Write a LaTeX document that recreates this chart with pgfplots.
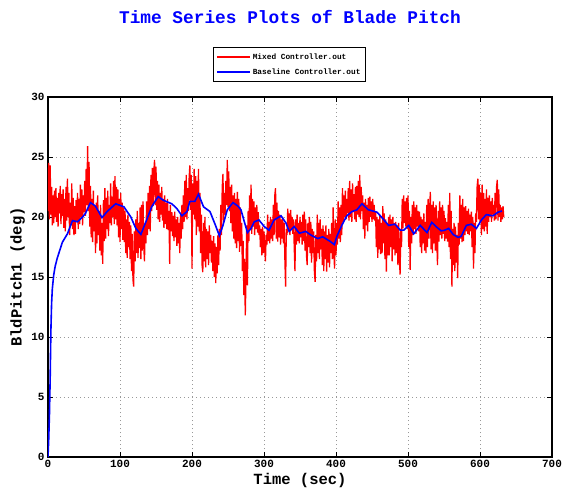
\documentclass[border=0pt]{standalone}
\usepackage{pgfplots}
\pgfplotsset{compat=1.18}
\usepackage{fontspec}
\setmainfont{Liberation Mono}
\begin{document}
\begin{tikzpicture}
\begin{axis}[
 scale only axis, width=504pt, height=360pt,
 xmin=0, xmax=700, ymin=0, ymax=30,
 xtick={0,100,...,700}, ytick={0,5,...,30},
 grid=major, grid style={gray!80, line width=0.6pt, dash pattern=on 0.8pt off 3.2pt},
 tick align=inside, major tick length=5pt,
 axis line style={line width=1.1pt},
 every tick/.style={black, line width=0.8pt},
 tick label style={font=\bfseries\fontsize{11}{12}\selectfont},
 /pgf/number format/assume math mode=true,
 xlabel={Time (sec)}, ylabel={BldPitch1 (deg)},
 every axis x label/.style={at={(axis description cs:0.5,-0.064)}, anchor=center, font=\bfseries\fontsize{15.5}{16}\selectfont},
 every axis y label/.style={at={(axis description cs:-0.06,0.5)}, anchor=center, rotate=90, font=\bfseries\fontsize{15.5}{16}\selectfont},
 legend style={at={(axis description cs:0.327,1.139)}, anchor=north west, draw=black, line width=0.8pt,
   font=\bfseries\fontsize{7.8}{9}\selectfont, cells={anchor=west}, inner xsep=3pt, inner ysep=4pt, row sep=4pt},
 legend image code/.code={\draw[#1] (0pt,0pt) -- (33pt,0pt);},
]
\addlegendimage{red, line width=1.3pt}
\addlegendentry{Mixed Controller.out}
\addlegendimage{blue, line width=1.6pt}
\addlegendentry{Baseline Controller.out}
\addplot[red, line width=1.3pt, forget plot] coordinates {
(0,20.5)(1,24.5)(2,19.8)(3,24.3)(4,20.2)(5,22.5)(6,19.3)(7,21.8)(8,19.5)(9,22.2)(10,20.0)
(11,22.4)(12,19.6)(13,21.6)(14,19.2)(15,22.0)(16,20.3)(17,22.6)(18,19.4)(19,21.9)(20,20.1)(21,22.3)(22,19.1)
(23,21.5)(24,18.8)(25,22.5)(26,19.7)(27,23.2)(28,20.0)(29,22.0)(30,18.5)(31,21.2)(32,19.3)(33,22.8)(34,19.0)(35,21.6)(36,18.5)
(37,20.9)(38,18.6)(39,21.4)(40,19.6)(41,22.0)(42,19.0)(43,21.5)
(44,19.4)(45,22.7)(46,20.0)(47,22.3)(48,19.3)(49,21.8)(50,20.4)
(51,23.0)(52,20.1)(53,24.0)(54,21.0)(55,25.9)(56,20.5)(57,24.6)
(58,19.2)(59,22.6)(60,18.3)(61,21.5)(62,17.9)(63,22.2)(64,18.8)(65,20.9)(66,17.0)
(67,21.2)(68,17.8)(69,21.8)(70,18.5)(71,20.5)(72,17.2)(73,21.0)(74,16.8)(75,19.5)(76,16.1)(77,21.4)(78,18.0)
(79,22.4)(80,18.2)(81,21.6)(82,19.0)(83,22.2)(84,18.4)(85,21.0)(86,19.5)(87,22.8)(88,19.3)(89,21.7)(90,20.0)(91,23.0)(92,19.4)
(93,23.4)(94,19.8)(95,22.5)(96,19.3)
(97,22.3)(98,18.3)(99,21.5)(100,17.9)(101,22.0)(102,19.0)(103,21.2)(104,18.1)(105,20.8)(106,17.9)
(107,20.5)(108,17.0)(109,19.8)(110,16.6)(111,20.2)(112,17.5)(113,19.6)
(114,16.5)(115,19.3)(116,15.5)(117,18.6)(118,14.8)(119,14.2)(120,18.8)
(121,16.3)(122,19.8)(123,17.0)(124,20.5)(125,16.6)(126,19.5)(127,17.4)(128,20.8)(129,16.5)(130,21.0)(131,17.2)(132,21.3)(133,17.6)
(134,16.3)(135,19.5)(136,17.8)(137,21.3)(138,18.5)(139,22.0)(140,19.0)(141,22.6)(142,18.8)
(143,23.5)(144,20.5)(145,24.1)(146,20.9)(147,23.8)(148,24.75)(149,21.0)(150,24.2)(151,20.6)(152,23.0)
(153,19.8)(154,22.7)(155,19.6)(156,22.0)(157,20.2)(158,22.5)(159,19.7)(160,21.5)
(161,19.1)(162,21.8)(163,19.4)(164,21.2)(165,19.0)(166,21.5)(167,18.9)(168,20.5)(169,16.1)(170,21.0)
(171,18.8)(172,20.4)(173,18.4)(174,20.1)(175,18.0)(176,20.45)(177,18.3)(178,19.8)(179,17.6)(180,20.0)(181,17.8)(182,19.5)(183,17.0)(184,20.2)(185,18.2)(186,21.0)(187,19.0)(188,21.8)
(189,19.6)(190,23.0)(191,20.0)(192,23.5)(193,19.8)(194,22.4)(195,20.5)(196,23.2)(197,24.3)
(198,20.6)(199,23.5)(200,15.7)(201,22.8)(202,20.2)(203,24.0)(204,19.8)(205,23.4)
(206,18.5)(207,23.0)(208,19.2)(209,24.0)(210,18.8)(211,22.0)
(212,17.0)(213,20.2)(214,16.0)(215,15.4)(216,19.5)(217,16.3)(218,20.0)(219,15.8)(220,19.0)(221,16.5)(222,18.8)(223,16.0)(224,19.3)(225,17.0)
(226,18.5)(227,16.2)(228,18.0)(229,15.5)(230,18.4)(231,15.0)(232,17.8)(233,14.5)(234,17.5)(235,15.3)(236,18.5)(237,16.0)(238,19.0)(239,17.2)
(240,21.0)(241,18.5)(242,22.5)(243,23.6)(244,19.6)(245,22.0)(246,20.2)(247,23.0)
(248,21.0)(249,24.75)(250,20.8)(251,23.8)(252,20.5)(253,22.5)
(254,19.5)(255,22.7)(256,18.8)(257,21.8)(258,18.2)(259,22.0)(260,17.8)(261,21.5)
(262,17.4)(263,22.1)(264,18.0)(265,21.5)(266,17.1)(267,20.8)(268,17.6)(269,19.5)
(270,15.5)(271,18.0)(272,13.5)(273,16.5)(274,11.8)(275,15.0)(276,19.3)(277,14.3)
(278,20.5)(279,18.0)(280,21.8)(281,19.0)(282,22.7)(283,18.6)(284,21.5)(285,19.2)
(286,21.3)(287,18.5)(288,20.8)(289,19.0)(290,21.0)(291,18.7)(292,20.4)(293,18.5)
(294,19.3)(295,17.5)(296,19.0)(297,16.8)(298,19.2)(299,17.0)(300,18.8)(301,17.3)(302,16.3)(303,18.5)
(304,17.7)(305,20.2)(306,18.0)(307,19.6)(308,17.8)(309,20.0)(310,18.2)(311,19.8)(312,18.0)
(313,21.0)(314,18.5)(315,21.8)(316,22.4)(317,18.2)(318,21.2)(319,17.95)(320,20.5)(321,18.3)
(322,20.2)(323,17.7)(324,19.8)(325,18.2)(326,20.0)(327,17.8)(328,19.5)(329,16.5)(330,14.2)(331,19.0)
(332,18.5)(333,20.7)(334,18.8)(335,20.3)(336,18.5)(337,20.6)(338,19.0)(339,20.0)(340,18.6)(341,19.8)(342,17.5)(343,15.5)
(344,19.8)(345,17.7)(346,20.2)(347,18.0)(348,19.5)(349,17.8)(350,20.0)(351,18.3)(352,19.6)(353,17.7)(354,20.2)
(355,18.0)(356,20.45)(357,17.2)(358,19.8)(359,16.8)(360,16.0)(361,19.5)(362,17.5)(363,20.0)
(364,17.0)(365,19.6)(366,16.2)(367,19.0)(368,17.0)(369,18.8)(370,15.5)(371,14.6)(372,18.5)
(373,16.3)(374,20.2)(375,17.0)(376,19.5)(377,16.5)(378,19.8)(379,17.3)(380,19.0)(381,16.0)(382,19.3)(383,15.5)(384,18.8)(385,16.5)(386,19.3)
(387,15.45)(388,18.5)(389,16.2)(390,19.0)(391,15.8)(392,18.6)(393,17.0)(394,19.5)
(395,16.5)(396,20.8)(397,17.2)(398,15.7)(399,19.8)(400,16.8)(401,19.5)
(402,17.7)(403,21.3)(404,18.2)(405,20.8)(406,17.9)(407,21.0)(408,18.5)
(409,22.4)(410,19.6)(411,21.8)(412,20.0)(413,22.2)(414,19.8)(415,21.5)(416,20.3)(417,22.4)(418,19.7)
(419,23.0)(420,20.0)(421,22.3)(422,19.6)(423,22.8)(424,20.4)(425,21.9)(426,19.8)(427,22.5)
(428,19.6)(429,22.6)(430,20.2)(431,23.0)(432,20.0)(433,23.5)(434,19.8)(435,22.5)(436,20.5)
(437,21.8)(438,19.0)(439,21.2)(440,18.2)(441,21.5)(442,19.3)(443,21.0)(444,18.8)(445,21.6)
(446,19.6)(447,21.7)(448,20.0)(449,21.3)(450,19.6)(451,21.5)(452,19.8)(453,21.0)(454,19.7)
(455,20.45)(456,17.5)(457,20.0)(458,16.6)(459,19.8)(460,17.3)(461,20.2)(462,16.9)(463,19.5)
(464,17.0)(465,20.9)(466,17.8)(467,20.3)(468,16.5)(469,19.8)(470,15.45)(471,19.5)(472,16.8)(473,20.0)
(474,16.8)(475,20.2)(476,17.5)(477,19.8)(478,16.3)(479,20.0)(480,17.3)(481,19.5)(482,16.8)
(483,19.6)(484,17.0)(485,19.3)(486,16.0)(487,19.5)(488,16.8)(489,15.2)(490,19.0)(491,17.5)(492,21.5)
(493,19.05)(494,21.8)(495,19.5)(496,21.3)(497,19.2)(498,21.6)(499,19.0)
(500,21.8)(501,17.5)(502,20.5)(503,15.6)(504,20.0)(505,17.8)(506,21.0)
(507,18.5)(508,21.3)(509,19.0)(510,20.8)(511,18.6)(512,21.0)(513,19.2)(514,20.5)(515,18.8)
(516,20.45)(517,17.5)(518,20.0)(519,17.0)(520,19.8)(521,17.8)(522,20.3)(523,17.2)(524,19.6)
(525,17.0)(526,21.0)(527,17.5)(528,21.5)(529,18.2)(530,20.5)(531,22.1)(532,17.3)(533,21.0)
(534,17.0)(535,21.3)(536,17.8)(537,20.8)(538,17.2)(539,21.0)(540,18.0)(541,16.0)(542,20.5)
(543,17.95)(544,21.3)(545,18.5)(546,20.8)(547,18.2)(548,21.0)(549,18.6)(550,20.5)
(551,18.0)(552,19.9)(553,18.2)(554,19.6)(555,17.95)
(556,21.0)(557,17.5)(558,22.0)(559,16.5)(560,20.5)(561,14.2)(562,19.0)
(563,16.0)(564,19.5)(565,15.5)(566,19.2)(567,16.2)(568,18.5)(569,14.9)
(570,19.5)(571,17.7)(572,21.8)(573,18.2)(574,21.0)(575,17.9)(576,21.5)(577,18.0)(578,20.8)
(579,18.5)(580,20.9)(581,18.8)(582,20.5)(583,18.6)(584,20.7)(585,18.5)(586,20.2)(587,18.8)
(588,20.45)(589,17.5)(590,20.0)(591,15.7)(592,19.5)(593,17.0)(594,20.3)
(595,19.6)(596,22.5)(597,23.2)(598,19.8)(599,22.7)(600,19.6)(601,22.0)
(602,18.5)(603,22.7)(604,19.0)(605,22.0)(606,18.8)(607,21.5)(608,19.2)(609,22.3)(610,18.6)(611,21.6)
(612,19.6)(613,21.8)(614,20.0)(615,21.3)(616,19.6)(617,21.6)(618,20.2)(619,21.0)(620,19.7)
(621,22.0)(622,19.8)(623,22.5)(624,23.1)(625,19.7)(626,22.3)(627,20.0)
(628,21.0)(629,19.6)(630,20.8)(631,19.8)(632,20.9)(633,20.0)
};
\addplot[blue, line width=1.6pt, forget plot] coordinates {
(0,0)(1,1.5)(2,3.5)(3,6.5)(4,10.5)(5,12.8)(6,14)(8,15.2)(10,15.9)(13,16.6)(20,17.9)(27,18.6)(34,19.7)(41,19.6)(48,20.0)(52,20.3)(59,21.2)(66,20.9)(75,19.95)(82,20.45)(94,21.1)(105.5,20.85)(115,20.0)(122,19.05)(129,18.55)(137,19.75)(144,20.85)(153,21.7)(160,21.4)(172,21.1)(179,20.7)(186,20.1)(193,20.45)(197,21.3)(204,21.3)(209,21.9)(216,20.85)(225,20.45)(232,19.4)(238,18.45)(243,19.3)(249,20.6)(257,21.2)(264,20.9)(268,20.6)(272.7,19.6)(277,18.7)(282,19.05)(286.5,19.6)(293,19.75)(300.4,19.2)(307,18.9)(314,19.75)(323.6,20.1)(330.5,19.5)(335,18.8)(342,19.2)(349,18.65)(358,18.8)(365,18.5)(374.6,18.2)(381.5,18.35)(391,18.0)(397.7,17.7)(401,18.35)(408,19.3)(415,20.1)(422,20.45)(429,20.6)(436,21.1)(445,20.6)(457,20.4)(466,19.8)(473,19.3)(482,19.4)(489.3,18.9)(494,18.9)(501,19.3)(508,18.6)(517,19.3)(526.4,18.7)(533,19.55)(539,19.2)(546,18.85)(551,18.9)(556.5,19.05)(562.5,18.55)(569.4,18.3)(574,18.4)(581,19.3)(588,19.4)(595,19.05)(602,19.75)(608.8,20.2)(618,20.1)(625,20.4)(630.5,20.5)
};
\end{axis}
\node[font=\bfseries\fontsize{17.8}{19}\selectfont, text=blue] at (242pt,440pt) {Time Series Plots of Blade Pitch};
\pgfresetboundingbox
\useasboundingbox (-48pt,-35pt) rectangle (516pt,457pt);
\end{tikzpicture}
\end{document}
